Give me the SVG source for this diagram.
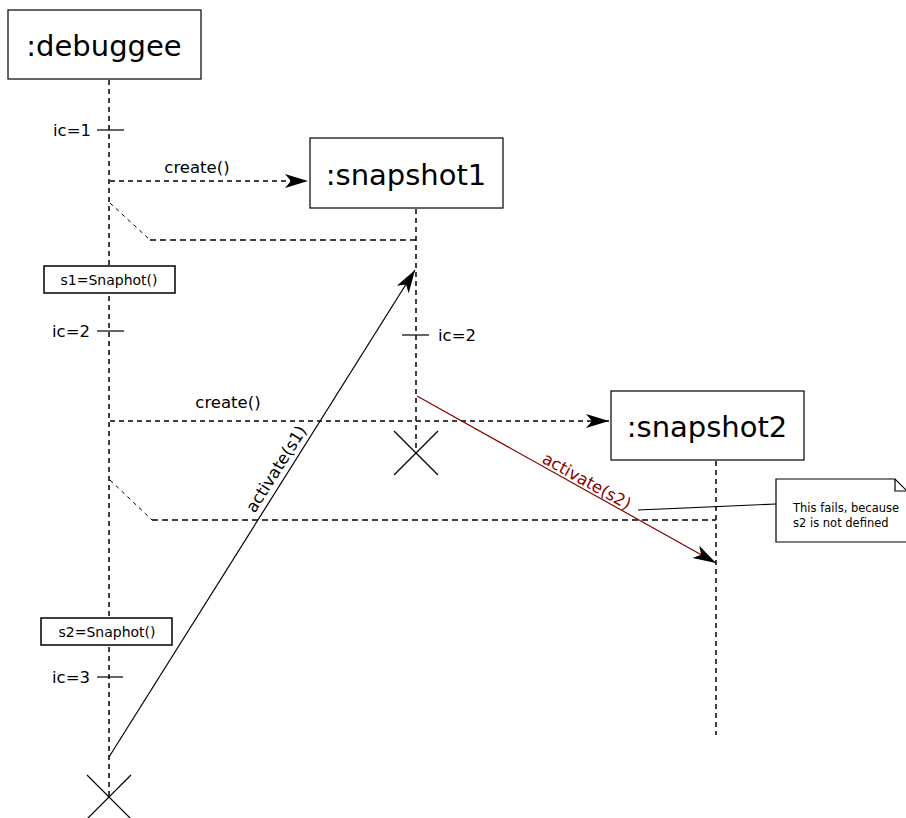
<svg xmlns="http://www.w3.org/2000/svg" width="906" height="818" viewBox="0 0 906 818">
<style>
text{font-family:"DejaVu Sans","Liberation Sans",sans-serif;fill:#000}
.box{fill:#fff;stroke:#000;stroke-width:1.2}
.life{stroke:#000;stroke-width:1.5;stroke-dasharray:5,4;fill:none}
.msg{stroke:#000;stroke-width:1.3;stroke-dasharray:5,4;fill:none}
.ret{stroke:#000;stroke-width:1.5;stroke-dasharray:6,4;fill:none}
.solid{stroke:#000;stroke-width:1.2;fill:none}
.title{font-size:29px;text-anchor:middle}
.lbl{font-size:16.5px}
.sm{font-size:14px;text-anchor:middle}
</style>
<defs>
<marker id="arr" markerUnits="userSpaceOnUse" markerWidth="26" markerHeight="16" viewBox="-24 -8 26 16" refX="0" refY="0" orient="auto">
<path d="M0,0 L-23,-7 L-17,0 L-23,7 Z" fill="#000"/>
</marker>
</defs>
<g id="connectors">
<line class="msg" x1="110" y1="181" x2="308" y2="181" marker-end="url(#arr)"/>
<text class="lbl" x="197" y="173" text-anchor="middle">create()</text>
<polyline class="solid" style="stroke-dasharray:4,4;stroke-width:1" points="110,203 150,240"/>
<line class="ret" x1="150" y1="240" x2="416" y2="240"/>
<line class="msg" x1="110" y1="421" x2="609" y2="421" marker-end="url(#arr)"/>
<text class="lbl" x="228" y="408" text-anchor="middle">create()</text>
<polyline class="solid" style="stroke-dasharray:4,4;stroke-width:1" points="110,480 152,520"/>
<line class="ret" x1="152" y1="520" x2="716" y2="520"/>
<line class="solid" x1="109" y1="757" x2="415" y2="270" marker-end="url(#arr)"/>
<text class="lbl" x="281" y="472" text-anchor="middle" transform="rotate(-57.8 281 472)">activate(s1)</text>
<line style="stroke:#8b0000;stroke-width:1.2" x1="417" y1="396" x2="716" y2="563" marker-end="url(#arr)"/>
<text class="lbl" x="584" y="486" text-anchor="middle" style="fill:#8b0000" transform="rotate(29.2 584 486)">activate(s2)</text>
<line class="solid" x1="638" y1="510" x2="776" y2="504"/>
</g>
<g id="debuggee">
<rect class="box" x="8" y="10" width="193" height="69"/>
<text class="title" x="104" y="56">:debuggee</text>
<line class="life" x1="109" y1="80" x2="109" y2="797"/>
<line class="solid" x1="97" y1="130" x2="124" y2="130"/>
<text class="lbl" x="91" y="136" text-anchor="end">ic=1</text>
<line class="solid" x1="97" y1="331" x2="124" y2="331"/>
<text class="lbl" x="90" y="337" text-anchor="end">ic=2</text>
<line class="solid" x1="97" y1="677" x2="123" y2="677"/>
<text class="lbl" x="90" y="683" text-anchor="end">ic=3</text>
<line class="solid" x1="87" y1="775" x2="131" y2="819"/>
<line class="solid" x1="131" y1="775" x2="87" y2="819"/>
</g>
<g id="s1box">
<rect class="box" x="44" y="266" width="131" height="27" style="stroke-width:1.5"/>
<text class="sm" x="109" y="285">s1=Snaphot()</text>
</g>
<g id="s2box">
<rect class="box" x="41" y="618" width="131" height="27" style="stroke-width:1.5"/>
<text class="sm" x="107" y="637">s2=Snaphot()</text>
</g>
<g id="snapshot1">
<rect class="box" x="310" y="138" width="193" height="70"/>
<text class="title" x="406" y="185">:snapshot1</text>
<line class="life" x1="416" y1="209" x2="416" y2="453"/>
<line class="solid" x1="402" y1="335" x2="429" y2="335"/>
<text class="lbl" x="438" y="341">ic=2</text>
<line class="solid" x1="394" y1="431" x2="438" y2="475"/>
<line class="solid" x1="438" y1="431" x2="394" y2="475"/>
</g>
<g id="snapshot2">
<rect class="box" x="611" y="391" width="193" height="69"/>
<text class="title" x="707" y="437">:snapshot2</text>
<line class="life" x1="716" y1="461" x2="716" y2="735"/>
</g>
<g id="note">
<path class="box" d="M776,479 L895,479 L907,491 L907,542 L776,542 Z"/>
<path class="solid" d="M895,479 L895,491 L907,491"/>
<text x="793" y="512" style="font-size:11.5px">This fails, because</text>
<text x="793" y="527" style="font-size:11.5px">s2 is not defined</text>
</g>
</svg>
